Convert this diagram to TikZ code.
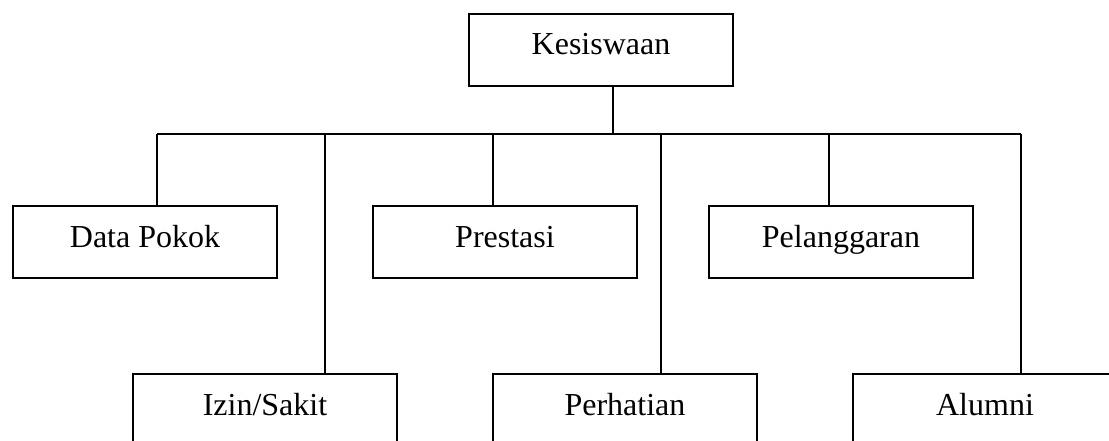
\documentclass[tikz,border=0pt]{standalone}
\usepackage{fontspec}
\setmainfont{Liberation Serif}
\begin{document}
\begin{tikzpicture}[x=1pt,y=-1pt,
  box/.style={draw=black,line width=1.8pt,fill=white,minimum width=264pt,minimum height=72pt,
    inner sep=0pt,text height=22pt,text depth=12pt,font=\fontsize{32}{38}\selectfont},
  conn/.style={draw=black,line width=1.8pt}]
\useasboundingbox (0,0) rectangle (1109,441);
\clip (0,0) rectangle (1109,441);
\coordinate (busL) at (157,134);
\coordinate (busR) at (1021,134);
\node[box] (k) at (601,50) {Kesiswaan};
\node[box] (dp) at (145,242) {Data Pokok};
\node[box] (pr) at (505,242) {Prestasi};
\node[box] (pl) at (841,242) {Pelanggaran};
\node[box] (iz) at (265,410) {Izin/Sakit};
\node[box] (ph) at (625,410) {Perhatian};
\node[box] (al) at (985,410) {Alumni};
\draw[conn] (busL) -- (busR);
\draw[conn] ([xshift=12pt]k.south) -- ([xshift=12pt]k.south |- busL);
\draw[conn] ([xshift=12pt]dp.north) -- ([xshift=12pt]dp.north |- busL);
\draw[conn] ([xshift=-12pt]pr.north) -- ([xshift=-12pt]pr.north |- busL);
\draw[conn] ([xshift=-12pt]pl.north) -- ([xshift=-12pt]pl.north |- busL);
\draw[conn] ([xshift=60pt]iz.north) -- ([xshift=60pt]iz.north |- busL);
\draw[conn] ([xshift=36pt]ph.north) -- ([xshift=36pt]ph.north |- busL);
\draw[conn] ([xshift=36pt]al.north) -- ([xshift=36pt]al.north |- busL);
\end{tikzpicture}
\end{document}
